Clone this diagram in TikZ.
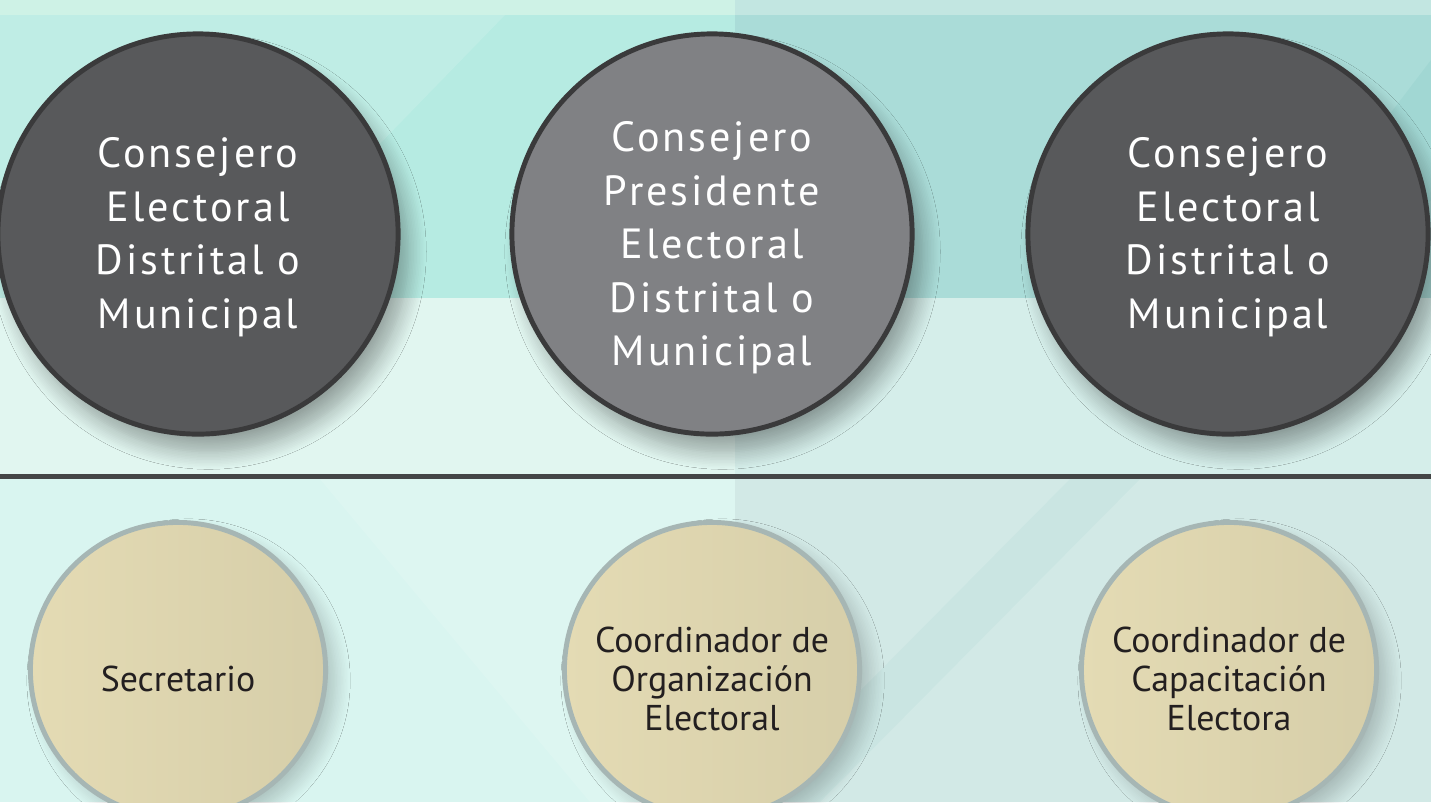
\documentclass[tikz,border=0pt]{standalone}
\usepackage{fontspec}
\setmainfont{PT Sans}
\newfontfamily\spacedsans[LetterSpace=7]{PT Sans}
\usepackage{tikz}
\usetikzlibrary{positioning,shadows.blur}

% colours of the panel
\definecolor{stripL}{HTML}{CEF2E6}
\definecolor{stripR}{HTML}{C2E6E1}
\definecolor{bandL}{HTML}{B6EBE2}
\definecolor{bandR}{HTML}{AADCD8}
\definecolor{paleL}{HTML}{E1F6F0}
\definecolor{paleR}{HTML}{D5EEEA}
\definecolor{lowL}{HTML}{D9F5F0}
\definecolor{lowR}{HTML}{D2E9E6}
\definecolor{ruleGrey}{HTML}{434546}
\definecolor{discDark}{HTML}{58595B}
\definecolor{discMid}{HTML}{808184}
\definecolor{ringDark}{HTML}{3A3A3B}
\definecolor{sandL}{HTML}{E4DBB4}
\definecolor{sandR}{HTML}{D6CEA9}
\definecolor{ringSand}{HTML}{A6B6B4}
\definecolor{inkText}{HTML}{231F20}

\begin{document}
\begin{tikzpicture}[x=0.01cm, y=-0.01cm,
    % big discs of the council
    council/.style={circle, draw=ringDark, line width=1.4pt, fill=discDark,
      minimum size=4.0cm, inner sep=0pt,
      blur shadow={shadow xshift=3pt, shadow yshift=-5pt, shadow blur radius=5pt,
        shadow blur steps=12, shadow opacity=35}},
    councilText/.style={text=white, align=center,
      font=\spacedsans\fontsize{12}{15.2}\selectfont},
    % small discs of the staff
    staff/.style={circle, draw=ringSand, line width=1.4pt,
      left color=sandL, right color=sandR,
      minimum size=2.95cm, inner sep=0pt,
      blur shadow={shadow xshift=3pt, shadow yshift=-3pt, shadow blur radius=4pt,
        shadow blur steps=10, shadow opacity=20}},
    staffText/.style={text=inkText, align=center,
      font=\fontsize{10.2}{11.2}\selectfont},
    facet/.style={fill=white, fill opacity=0.13, draw=none}
  ]
  \useasboundingbox (0,0) rectangle (1431,802);

  % --- background panel ---
  \fill[stripL] (0,0) rectangle (735,15);
  \fill[stripR] (735,0) rectangle (1431,15);
  \fill[bandL] (0,15) rectangle (735,298);
  \fill[bandR] (735,15) rectangle (1431,298);
  \fill[paleL] (0,298) rectangle (735,474);
  \fill[paleR] (735,298) rectangle (1431,474);
  \fill[lowL] (0,479) rectangle (735,802);
  \fill[lowR] (735,479) rectangle (1431,802);

  % faint diagonal facets
  \fill[facet] (0,15) -- (505,15) -- (230,298) -- (0,298) -- cycle;
  \fill[facet] (320,479) -- (735,479) -- (735,802) -- (590,802) -- cycle;
  \fill[teal, opacity=0.035] (1070,479) -- (1140,479) -- (820,802) -- (750,802) -- cycle;
  \fill[teal, opacity=0.05] (1431,60) -- (1431,200) -- (1330,298) -- (1250,298) -- cycle;

  % --- separator ---
  \coordinate (ruleL) at (0,476.5);
  \coordinate (ruleR) at (1431,476.5);
  \draw[ruleGrey, line width=1.45pt] (ruleL) -- (ruleR);

  % --- council ---
  \node[council] (leftCouncil) at (198,234) {};
  \node[council, fill=discMid] (president) at (712,234) {};
  \node[council] (rightCouncil) at (1228,234) {};

  \node[councilText] (leftCouncilLbl) at ([yshift=-0.03cm]leftCouncil.center)
    {Consejero\\Electoral\\Distrital o\\Municipal};
  \node[councilText] (presidentLbl) at ([yshift=-0.14cm]president.center)
    {Consejero\\Presidente\\Electoral\\Distrital o\\Municipal};
  \node[councilText] (rightCouncilLbl) at ([yshift=-0.03cm]rightCouncil.center)
    {Consejero\\Electoral\\Distrital o\\Municipal};

  % --- staff ---
  \node[staff] (secretary) at (178,670) {};
  \node[staff] (organisation) at (712,670) {};
  \node[staff] (training) at (1229,670) {};

  \node[staffText] (secretaryLbl) at ([yshift=-0.09cm]secretary.center) {Secretario};
  \node[staffText] (organisationLbl) at ([yshift=-0.09cm]organisation.center)
    {Coordinador de\\Organización\\Electoral};
  \node[staffText] (trainingLbl) at ([yshift=-0.09cm]training.center)
    {Coordinador de\\Capacitación\\Electora};
\end{tikzpicture}
\end{document}
